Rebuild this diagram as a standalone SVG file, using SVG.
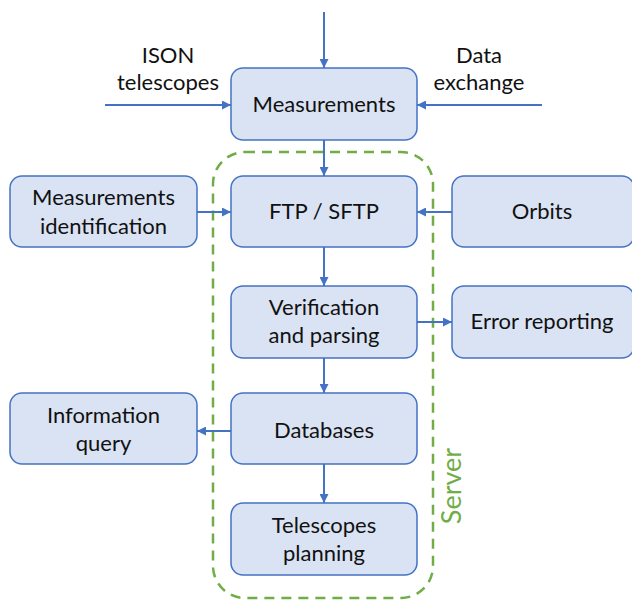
<svg xmlns="http://www.w3.org/2000/svg" width="632" height="602" viewBox="0 0 632 602">
  <style>
    .box { fill: #dae3f3; stroke: #4472c4; stroke-width: 1.5; }
    .lbl { font-family: Lato, "Open Sans", sans-serif; font-size: 22px; fill: #111; text-anchor: middle; }
    .edge { stroke: #4472c4; stroke-width: 2; fill: none; marker-end: url(#arr); }
    .server { fill: none; stroke: #70ad47; stroke-width: 2.5; stroke-dasharray: 10 7; }
    .server-lbl { font-family: Lato, "Open Sans", sans-serif; font-size: 27px; fill: #70ad47; text-anchor: middle; }
  </style>
  <defs>
    <marker id="arr" viewBox="0 0 10 10" refX="10" refY="5" markerWidth="4.5" markerHeight="4.5" orient="auto" markerUnits="strokeWidth">
      <path d="M0,0 L10,5 L0,10 z" fill="#4472c4"/>
    </marker>
  </defs>
  <rect width="632" height="602" fill="#ffffff"/>

  <!-- server boundary -->
  <g id="server">
    <rect class="server" x="213" y="152" width="220" height="446" rx="32" ry="32"/>
    <text class="server-lbl" transform="translate(461,486) rotate(-90)">Server</text>
  </g>

  <!-- connectors -->
  <g id="connectors">
    <line class="edge" x1="324" y1="12" x2="324" y2="68"/>
    <line class="edge" x1="105" y1="105" x2="231" y2="105"/>
    <line class="edge" x1="542" y1="105" x2="417" y2="105"/>
    <line class="edge" x1="324" y1="140" x2="324" y2="176"/>
    <line class="edge" x1="197" y1="212" x2="231" y2="212"/>
    <line class="edge" x1="452" y1="212" x2="417" y2="212"/>
    <line class="edge" x1="324" y1="247" x2="324" y2="286"/>
    <line class="edge" x1="417" y1="322" x2="452" y2="322"/>
    <line class="edge" x1="324" y1="358" x2="324" y2="393"/>
    <line class="edge" x1="231" y1="431" x2="197" y2="431"/>
    <line class="edge" x1="324" y1="464" x2="324" y2="503"/>
  </g>

  <!-- source labels -->
  <g id="ison">
    <text class="lbl" x="168" y="63">ISON</text>
    <text class="lbl" x="168" y="90">telescopes</text>
  </g>
  <g id="exchange">
    <text class="lbl" x="479" y="63">Data</text>
    <text class="lbl" x="479" y="90">exchange</text>
  </g>

  <g id="measurements">
    <rect class="box" x="231" y="68" width="186" height="72" rx="12"/>
    <text class="lbl" x="324" y="112">Measurements</text>
  </g>
  <g id="meas-id">
    <rect class="box" x="10" y="176" width="187" height="71" rx="12"/>
    <text class="lbl" x="103.5" y="205">Measurements</text>
    <text class="lbl" x="103.5" y="234">identification</text>
  </g>
  <g id="ftp">
    <rect class="box" x="231" y="176" width="186" height="71" rx="12"/>
    <text class="lbl" x="324" y="219">FTP / SFTP</text>
  </g>
  <g id="orbits">
    <rect class="box" x="452" y="176" width="182" height="71" rx="12"/>
    <text class="lbl" x="542" y="219">Orbits</text>
  </g>
  <g id="verification">
    <rect class="box" x="231" y="286" width="186" height="72" rx="12"/>
    <text class="lbl" x="324" y="315">Verification</text>
    <text class="lbl" x="324" y="343">and parsing</text>
  </g>
  <g id="errors">
    <rect class="box" x="452" y="286" width="182" height="72" rx="12"/>
    <text class="lbl" x="542" y="329">Error reporting</text>
  </g>
  <g id="databases">
    <rect class="box" x="231" y="393" width="186" height="71" rx="12"/>
    <text class="lbl" x="324" y="438">Databases</text>
  </g>
  <g id="info-query">
    <rect class="box" x="10" y="393" width="187" height="71" rx="12"/>
    <text class="lbl" x="103.5" y="423">Information</text>
    <text class="lbl" x="103.5" y="451">query</text>
  </g>
  <g id="planning">
    <rect class="box" x="231" y="503" width="186" height="72" rx="12"/>
    <text class="lbl" x="324" y="533">Telescopes</text>
    <text class="lbl" x="324" y="561">planning</text>
  </g>
</svg>
